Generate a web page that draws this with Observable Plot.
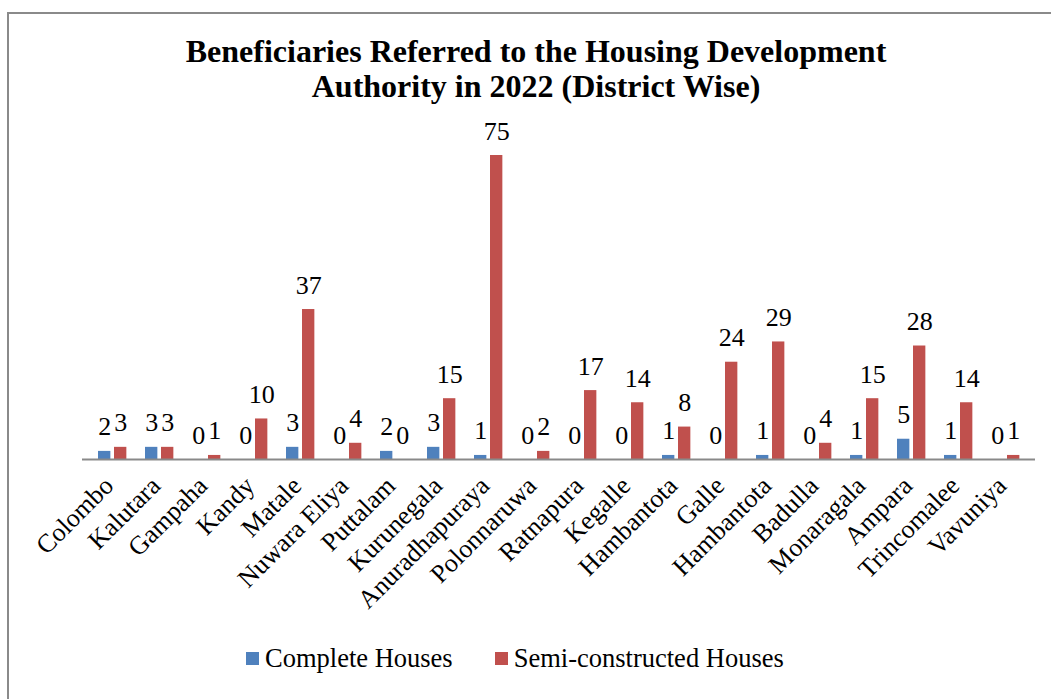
<!DOCTYPE html>
<html><head><meta charset="utf-8">
<script src="https://cdn.jsdelivr.net/npm/d3@7"></script>
<script src="https://cdn.jsdelivr.net/npm/@observablehq/plot@0.6"></script>
<style>
body{margin:0;background:#fff;font-family:"Liberation Serif","Times New Roman",serif;}
#wrap{position:relative;width:1051px;height:699px;overflow:hidden;background:#fff;}
#border{position:absolute;left:7px;top:12px;width:1100px;height:800px;border-left:2px solid #8a8a8a;border-top:2px solid #8a8a8a;}
#title{position:absolute;left:8px;width:1056px;top:34px;text-align:center;font-weight:bold;font-size:32px;line-height:35px;color:#000;}
#chart{position:absolute;left:0;top:0;}
#chart text{font-family:"Liberation Serif","Times New Roman",serif;}
#legend{position:absolute;left:246px;top:643px;font-size:26.5px;line-height:30px;white-space:nowrap;color:#000;}
#legend .sw{display:inline-block;width:13px;height:13px;margin-bottom:2px;vertical-align:baseline;}
</style>
</head><body>
<div id="wrap">
<div id="border"></div>
<div id="chart"></div>
<div id="title">Beneficiaries Referred to the Housing Development<br>Authority in 2022 (District Wise)</div>
<div id="legend"></div>
</div>
<script>
const districts = ["Colombo","Kalutara","Gampaha","Kandy","Matale","Nuwara Eliya","Puttalam","Kurunegala","Anuradhapuraya","Polonnaruwa","Ratnapura","Kegalle","Hambantota","Galle","Hambantota","Badulla","Monaragala","Ampara","Trincomalee","Vavuniya"];
const completeHouses = [2,3,0,0,3,0,2,3,1,0,0,0,1,0,1,0,1,5,1,0];
const semiHouses = [3,3,1,10,37,4,0,15,75,2,17,14,8,24,29,4,15,28,14,1];
const seriesNames = ["Complete Houses","Semi-constructed Houses"];
const seriesColors = ["#4F81BD","#C0504D"];

const complete = districts.map((d,i)=>({i, series: seriesNames[0], value: completeHouses[i]}));
const semi = districts.map((d,i)=>({i, series: seriesNames[1], value: semiHouses[i]}));

const marginLeft = 82, marginRight = 16, width = 1051;
const step = (width - marginLeft - marginRight) / districts.length;
const serif = "Liberation Serif";

const plot = Plot.plot({
  width, height: 640,
  marginLeft, marginRight, marginTop: 155, marginBottom: 181,
  x: {type: "band", domain: d3.range(districts.length), padding: 0, label: null},
  y: {domain: [0, 75], axis: null},
  color: {domain: seriesNames, range: seriesColors},
  style: {fontFamily: serif, fontSize: "26px", color: "#000", background: "transparent"},
  marks: [
    Plot.barY(complete, {x: "i", y: "value", fill: "series", insetLeft: 9, insetRight: step - 22}),
    Plot.barY(semi, {x: "i", y: "value", fill: "series", insetLeft: 25, insetRight: step - 38}),
    Plot.ruleY([0], {stroke: "#898989", strokeWidth: 2}),
    Plot.text(complete, {x: "i", y: "value", text: d => String(d.value), dx: 15.5 - step / 2, dy: -16, lineAnchor: "bottom", fontSize: 26, fontFamily: serif, fill: "#000"}),
    Plot.text(semi, {x: "i", y: "value", text: d => String(d.value), dx: 31.5 - step / 2, dy: -16, lineAnchor: "bottom", fontSize: 26, fontFamily: serif, fill: "#000"}),
    Plot.axisX({tickFormat: i => districts[i], tickRotate: -45, tickSize: 0, tickPadding: 22, fontSize: 26, fontFamily: serif, label: null, dx: -4})
  ]
});
document.getElementById("chart").appendChild(plot);

const legend = document.getElementById("legend");
seriesNames.forEach((name, k) => {
  const item = document.createElement("span");
  item.style.marginRight = k === 0 ? "42px" : "0";
  const sw = document.createElement("span");
  sw.className = "sw";
  sw.style.background = seriesColors[k];
  sw.style.marginRight = "6px";
  item.appendChild(sw);
  item.appendChild(document.createTextNode(name));
  legend.appendChild(item);
});
</script>
</body></html>
